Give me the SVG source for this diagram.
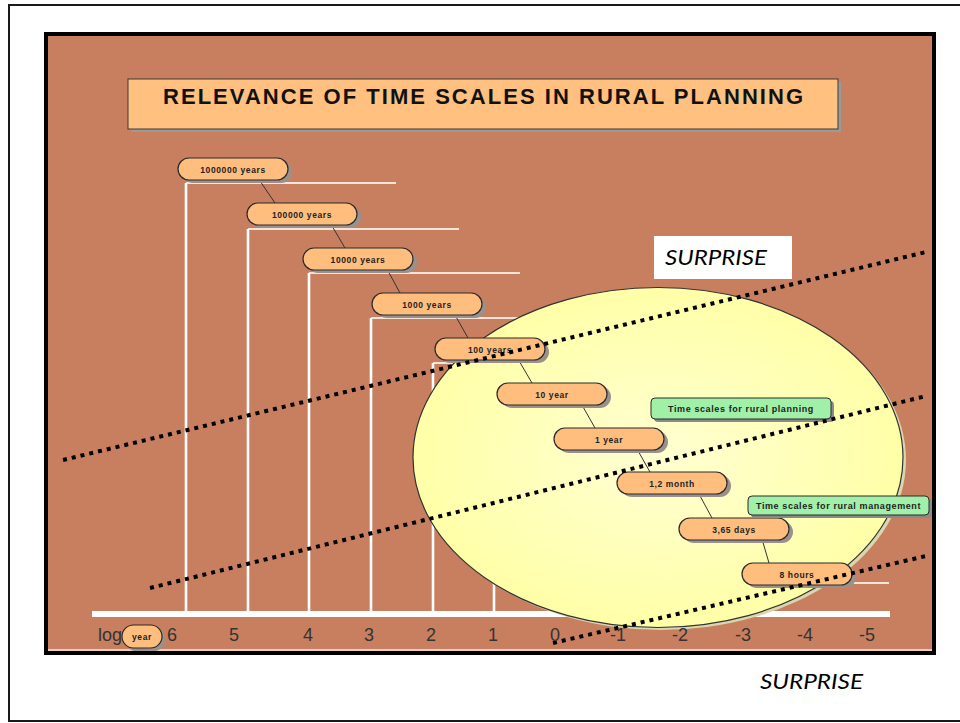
<svg xmlns="http://www.w3.org/2000/svg" width="960" height="723" viewBox="0 0 960 723">
<defs>
<radialGradient id="eg" cx="0.5" cy="0.5" r="0.5">
<stop offset="0" stop-color="#FFFFD2"/>
<stop offset="1" stop-color="#FFFFA8"/>
</radialGradient>
</defs>
<style>
.pill{fill:#FFBE7D;stroke:#2a2a2a;stroke-width:1.2}
.psh{fill:#9A918C}
.pt{font-family:"Liberation Sans",Arial,sans-serif;font-size:8.5px;font-weight:bold;fill:#222;text-anchor:middle;letter-spacing:0.6px}
.vl{stroke:#FFFFFF;stroke-width:2.6;fill:none}
.hl{stroke:#F3E4DA;stroke-width:2;fill:none}
.con{stroke:#333;stroke-width:1;fill:none}
.dot{stroke:#000;stroke-width:4;stroke-dasharray:4 5;fill:none}
.ax{font-family:"Liberation Sans",Arial,sans-serif;font-size:18px;fill:#333;text-anchor:middle}
.gb{fill:#A0F0A8;stroke:#2a2a2a;stroke-width:1}
.gt{font-family:"Liberation Sans",Arial,sans-serif;font-size:9px;font-weight:bold;fill:#222;text-anchor:middle;letter-spacing:0.6px}
.sur{font-family:Lato,"Open Sans",sans-serif;font-style:italic;font-size:22px;fill:#000}
</style>
<rect x="9" y="5" width="1000" height="716" fill="#FFFFFF" stroke="#1a1a1a" stroke-width="2"/>
<g id="panel">
<rect x="46" y="34" width="888" height="619" fill="#C77F5F" stroke="#000" stroke-width="4"/>
<line x1="48" y1="650" x2="932" y2="650" stroke="#F4E8E0" stroke-width="1.5"/>
</g>
<g id="title">
<rect x="131" y="82" width="710" height="50" fill="#9A9A9A"/>
<rect x="128" y="79" width="710" height="50" fill="#FFC080" stroke="#3a3a3a" stroke-width="1"/>
<text x="163" y="104" font-family="'Liberation Sans',Arial,sans-serif" font-size="22" font-weight="bold" fill="#111" textLength="640" lengthAdjust="spacing">RELEVANCE OF TIME SCALES IN RURAL PLANNING</text>
</g>
<g id="grid">
<path class="hl" d="M186 183H396M248 229H459M309 273H520M371 318H581M433 363H643M741 583H889"/>
<path class="vl" d="M186 183V611M248 229V611M309 273V611M371 318V611M433 363V611M494 408V611"/>
<rect id="axis" x="92" y="611" width="798" height="6" fill="#FFFFFF"/>
</g>
<g id="ellipse">
<ellipse cx="661" cy="460" rx="245" ry="170" fill="#D9D6B0"/>
<ellipse cx="658" cy="457.5" rx="245" ry="170" fill="url(#eg)" stroke="#333" stroke-width="1.2"/>
</g>
<g id="connectors">
<line class="con" x1="260" y1="181" x2="275" y2="203"/>
<line class="con" x1="332" y1="226" x2="345" y2="248"/>
<line class="con" x1="387" y1="269" x2="400" y2="293"/>
<line class="con" x1="455" y1="315" x2="468" y2="338"/>
<line class="con" x1="518" y1="359" x2="532" y2="383"/>
<line class="con" x1="582" y1="405" x2="595" y2="428"/>
<line class="con" x1="637" y1="449" x2="650" y2="472"/>
<line class="con" x1="699" y1="494" x2="712" y2="518"/>
<line class="con" x1="762" y1="539" x2="769" y2="563"/>
</g>
<g id="p1"><rect class="psh" x="182" y="161" width="110" height="22" rx="11"/><rect class="pill" x="178" y="158" width="110" height="22" rx="11"/><text class="pt" x="233" y="172.5">1000000 years</text></g>
<g id="p2"><rect class="psh" x="251" y="206" width="110" height="22" rx="11"/><rect class="pill" x="247" y="203" width="110" height="22" rx="11"/><text class="pt" x="302" y="217.5">100000 years</text></g>
<g id="p3"><rect class="psh" x="307" y="251" width="110" height="22" rx="11"/><rect class="pill" x="303" y="248" width="110" height="22" rx="11"/><text class="pt" x="358" y="262.5">10000 years</text></g>
<g id="p4"><rect class="psh" x="376" y="296" width="110" height="22" rx="11"/><rect class="pill" x="372" y="293" width="110" height="22" rx="11"/><text class="pt" x="427" y="307.5">1000 years</text></g>
<g id="p5"><rect class="psh" x="439" y="341" width="110" height="22" rx="11"/><rect class="pill" x="435" y="338" width="110" height="22" rx="11"/><text class="pt" x="490" y="352.5">100 years</text></g>
<g id="p6"><rect class="psh" x="501" y="386" width="110" height="22" rx="11"/><rect class="pill" x="497" y="383" width="110" height="22" rx="11"/><text class="pt" x="552" y="397.5">10 year</text></g>
<g id="p7"><rect class="psh" x="558" y="431" width="110" height="22" rx="11"/><rect class="pill" x="554" y="428" width="110" height="22" rx="11"/><text class="pt" x="609" y="442.5">1 year</text></g>
<g id="p8"><rect class="psh" x="621" y="475" width="110" height="22" rx="11"/><rect class="pill" x="617" y="472" width="110" height="22" rx="11"/><text class="pt" x="672" y="486.5">1,2 month</text></g>
<g id="p9"><rect class="psh" x="683" y="521" width="110" height="22" rx="11"/><rect class="pill" x="679" y="518" width="110" height="22" rx="11"/><text class="pt" x="734" y="532.5">3,65 days</text></g>
<g id="p10"><rect class="psh" x="746" y="566" width="110" height="22" rx="11"/><rect class="pill" x="742" y="563" width="110" height="22" rx="11"/><text class="pt" x="797" y="577.5">8 hours</text></g>
<g id="g1"><rect x="654" y="401" width="180" height="21" rx="4" fill="#8A8A8A"/><rect class="gb" x="651" y="398" width="180" height="21" rx="4"/><text class="gt" x="741" y="411.5">Time scales for rural planning</text></g>
<g id="g2"><rect x="751" y="499" width="181" height="19" rx="4" fill="#8A8A8A"/><rect class="gb" x="748" y="496" width="181" height="19" rx="4"/><text class="gt" x="838.5" y="508.5">Time scales for rural management</text></g>
<g id="dotted">
<line class="dot" x1="63" y1="460" x2="926" y2="252"/>
<line class="dot" x1="150" y1="588" x2="926" y2="396"/>
<line class="dot" x1="553" y1="643" x2="926" y2="556"/>
</g>
<g id="surprise1">
<rect x="654" y="236" width="138" height="43" fill="#FFFFFF"/>
<text class="sur" x="665" y="265" textLength="102" lengthAdjust="spacingAndGlyphs">SURPRISE</text>
</g>
<g id="surprise2">
<text class="sur" x="760" y="689" textLength="103" lengthAdjust="spacingAndGlyphs">SURPRISE</text>
</g>
<g id="axislabels">
<text x="98" y="641" font-family="'Liberation Sans',Arial,sans-serif" font-size="18" fill="#333">log</text>
<rect x="125" y="628" width="40" height="23" rx="11.5" fill="#9A918C"/>
<rect x="122" y="625" width="40" height="23" rx="11.5" fill="#FFBE7D" stroke="#2a2a2a" stroke-width="1.2"/>
<text class="pt" x="142" y="639.5" font-size="8">year</text>
<text class="ax" x="172" y="641">6</text>
<text class="ax" x="234" y="641">5</text>
<text class="ax" x="308" y="641">4</text>
<text class="ax" x="369" y="641">3</text>
<text class="ax" x="431" y="641">2</text>
<text class="ax" x="493" y="641">1</text>
<text class="ax" x="555" y="641">0</text>
<text class="ax" x="618" y="641">-1</text>
<text class="ax" x="680" y="641">-2</text>
<text class="ax" x="743" y="641">-3</text>
<text class="ax" x="805" y="641">-4</text>
<text class="ax" x="867" y="641">-5</text>
</g>
</svg>
